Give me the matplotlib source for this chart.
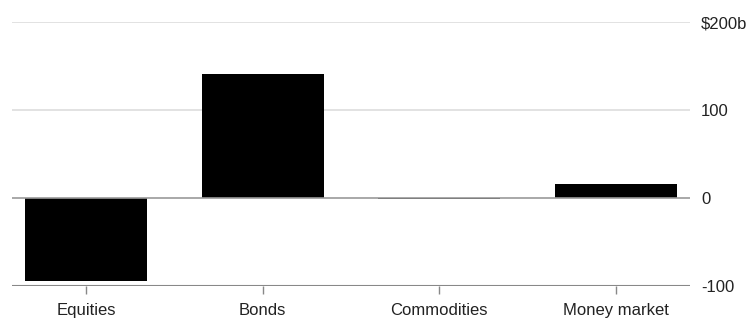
import matplotlib
matplotlib.use('Agg')
import matplotlib.pyplot as plt

categories = ['Equities', 'Bonds', 'Commodities', 'Money market']
flows = [-94, 141, -1, 16]
yticks = [-100, 0, 100, 200]
ytick_labels = ['-100', '0', '100', '$200b']

plt.rcParams['font.family'] = ['Liberation Sans Narrow', 'Liberation Sans', 'DejaVu Sans']

fig = plt.figure(figsize=(7.5, 3.2), dpi=100)
ax = fig.add_axes([0.016, 0.106, 0.904, 0.825])

x = range(len(categories))
ax.bar(x, flows, width=0.69, color='black', zorder=3)

ax.set_xlim(-0.42, 3.42)
ax.set_ylim(-100, 200)
ax.set_yticks(yticks)
ax.set_yticklabels(ytick_labels)
ax.set_xticks(list(x))
ax.set_xticklabels(categories)

# gridlines and baseline
for v in yticks:
    if v == 0:
        ax.axhline(v, color='#999999', lw=1.2, zorder=4)
    elif v == -100:
        ax.axhline(v, color='#888888', lw=1.5, zorder=4)
    else:
        ax.axhline(v, color='#dddddd', lw=1.2, zorder=1)

for s in ax.spines.values():
    s.set_visible(False)

ax.yaxis.tick_right()
ax.tick_params(axis='y', length=0, pad=8, labelsize=12, labelcolor='#222222')
ax.tick_params(axis='x', length=6, width=1, color='#888888', pad=6, labelsize=12, labelcolor='#222222')

fig.savefig('out.png', dpi=100)
